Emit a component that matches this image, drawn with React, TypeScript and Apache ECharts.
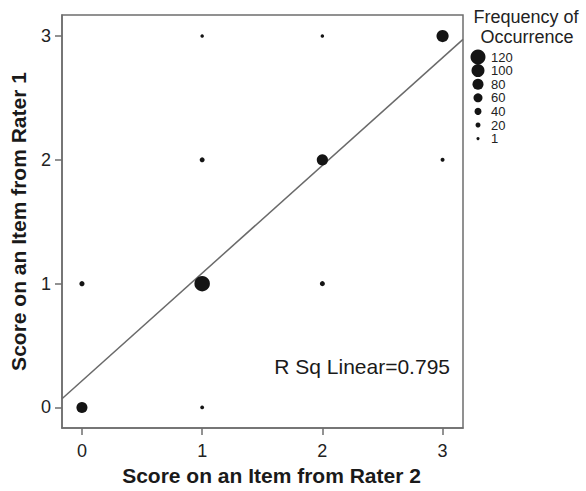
import React, { useEffect, useRef } from "react";
import * as echarts from "echarts";

// Score from Rater 2 (x), Score from Rater 1 (y), frequency of occurrence
const rater2Scores = [0, 0, 1, 1, 1, 1, 2, 2, 2, 3, 3];
const rater1Scores = [0, 1, 0, 1, 2, 3, 1, 2, 3, 2, 3];
const frequencies = [80, 22, 8, 125, 20, 5, 20, 82, 5, 10, 92];

const tickValues = [0, 1, 2, 3];
const legendValues = [120, 100, 80, 60, 40, 20, 1];

const fitIntercept = 0.215;
const fitSlope = 0.87;
const rSquared = "0.795";

const AXIS_MIN = -0.166;
const AXIS_MAX = 3.17;

const FONT = '"Liberation Sans", Arial, Helvetica, sans-serif';
const DOT = "#141414";

const sizeOf = (v: number) => 3 + v / 10;

export default function App() {
  const ref = useRef<HTMLDivElement>(null);

  useEffect(() => {
    if (!ref.current) return;
    const chart = echarts.init(ref.current, null, { renderer: "svg" });

    const points = rater2Scores.map((x, i) => [x, rater1Scores[i], frequencies[i]]);
    const fitLine = [AXIS_MIN, AXIS_MAX].map((x) => [x, fitIntercept + fitSlope * x]);

    const legendTop = 57;
    const legendStep = 13.6;
    const legendGraphics: any[] = [];
    legendValues.forEach((v, i) => {
      legendGraphics.push({
        type: "circle",
        shape: { cx: 478, cy: legendTop + i * legendStep, r: sizeOf(v) / 2 },
        style: { fill: DOT },
        silent: true,
      });
      legendGraphics.push({
        type: "text",
        x: 491,
        y: legendTop + i * legendStep,
        style: {
          text: String(v),
          font: `13px ${FONT}`,
          lineHeight: 13,
          fill: "#222",
          textVerticalAlign: "middle",
          textAlign: "left",
        },
        silent: true,
      });
    });

    chart.setOption({
      animation: false,
      backgroundColor: "#fff",
      grid: {
        left: 61,
        right: 123,
        top: 15,
        bottom: 61,
        show: true,
        borderColor: "#6e6e6e",
        borderWidth: 1.5,
        backgroundColor: "transparent",
      },
      xAxis: {
        type: "value",
        min: AXIS_MIN,
        max: AXIS_MAX,
        splitLine: { show: false },
        axisLine: { show: true, onZero: false, lineStyle: { color: "#6e6e6e", width: 1.5 } },
        axisTick: { show: true, length: 7, customValues: tickValues, lineStyle: { color: "#6e6e6e", width: 1.5 } },
        axisLabel: {
          customValues: tickValues,
          fontSize: 18,
          fontFamily: FONT,
          color: "#222",
          margin: 14,
        },
        name: "Score on an Item from Rater 2",
        nameLocation: "middle",
        nameGap: 37,
        nameTextStyle: {
          fontSize: 21,
          fontWeight: "bold",
          fontFamily: FONT,
          color: "#1a1a1a",
          padding: [0, 0, 0, 18],
        },
      },
      yAxis: {
        type: "value",
        min: AXIS_MIN,
        max: AXIS_MAX,
        splitLine: { show: false },
        axisLine: { show: true, onZero: false, lineStyle: { color: "#6e6e6e", width: 1.5 } },
        axisTick: { show: true, length: 7, customValues: tickValues, lineStyle: { color: "#6e6e6e", width: 1.5 } },
        axisLabel: {
          customValues: tickValues,
          fontSize: 18,
          fontFamily: FONT,
          color: "#222",
          margin: 11,
        },
        name: "Score on an Item from Rater 1",
        nameLocation: "middle",
        nameGap: 33,
        nameTextStyle: {
          fontSize: 21,
          fontWeight: "bold",
          fontFamily: FONT,
          color: "#1a1a1a",
        },
      },
      series: [
        {
          type: "line",
          data: fitLine,
          symbol: "none",
          silent: true,
          lineStyle: { color: "#6a6a6a", width: 1.5 },
          z: 1,
        },
        {
          type: "scatter",
          data: points,
          symbol: "circle",
          symbolSize: (val: number[]) => sizeOf(val[2]),
          itemStyle: { color: DOT, opacity: 1 },
          z: 2,
        },
      ],
      graphic: [
        {
          type: "text",
          x: 450,
          y: 366,
          style: {
            text: `R Sq Linear=${rSquared}`,
            font: `21px ${FONT}`,
            fill: "#1a1a1a",
            textAlign: "right",
            textVerticalAlign: "middle",
          },
          silent: true,
        },
        {
          type: "text",
          x: 526,
          y: 17,
          style: {
            text: "Frequency of",
            font: `18px ${FONT}`,
            fill: "#222",
            textAlign: "center",
            textVerticalAlign: "middle",
          },
          silent: true,
        },
        {
          type: "text",
          x: 527,
          y: 37,
          style: {
            text: "Occurrence",
            font: `18px ${FONT}`,
            fill: "#222",
            textAlign: "center",
            textVerticalAlign: "middle",
          },
          silent: true,
        },
        ...legendGraphics,
      ],
    });

    return () => chart.dispose();
  }, []);

  return <div ref={ref} style={{ width: 586, height: 491, position: "absolute", left: 0, top: 0 }} />;
}
